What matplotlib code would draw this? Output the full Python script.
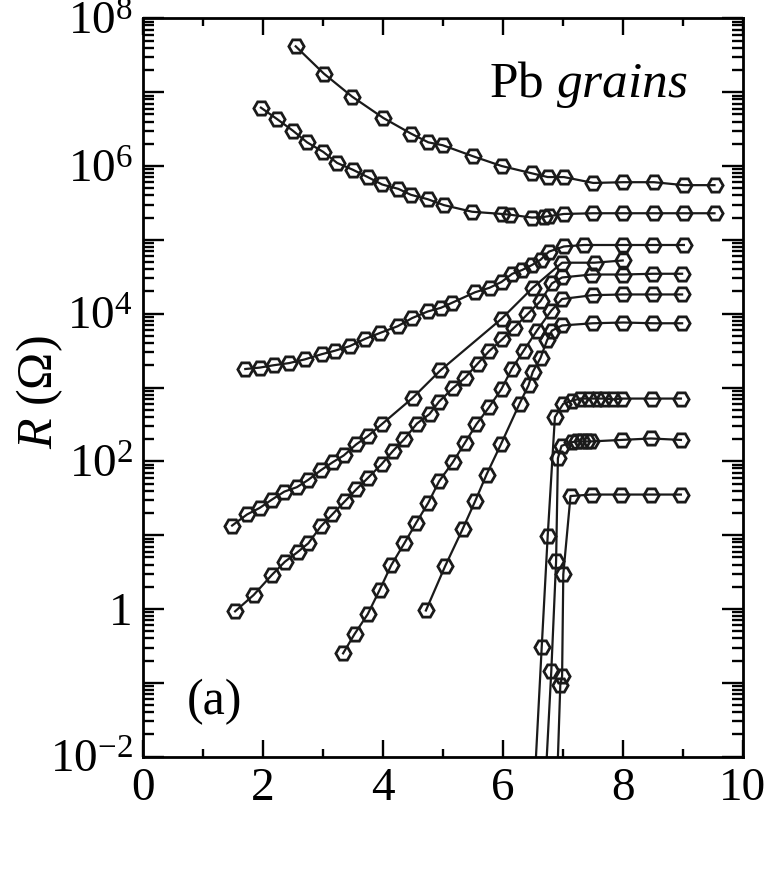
import numpy as np
import matplotlib
matplotlib.use('Agg')
import matplotlib.pyplot as plt
from matplotlib.ticker import FixedLocator, LogLocator, FuncFormatter, NullFormatter

plt.rcParams['font.family'] = ['Liberation Serif', 'DejaVu Serif']
plt.rcParams['mathtext.fontset'] = 'custom'
plt.rcParams['mathtext.rm'] = 'Liberation Serif'
plt.rcParams['mathtext.it'] = 'Liberation Serif:italic'

# R(T) curves, T in K, R in Ohm
x1 = [2.55, 3.02, 3.49, 4.01, 4.47, 4.76, 5.0, 5.51, 5.98, 6.49, 6.75, 7.02, 7.51, 8.01, 8.52, 9.02, 9.53]
r1 = [4.17e7, 1.78e7, 8.7e6, 4.47e6, 2.75e6, 2.09e6, 1.91e6, 1.35e6, 1.0e6, 7.94e5, 7.08e5, 7.08e5,
      5.89e5, 6.03e5, 6.03e5, 5.5e5, 5.5e5]

x2 = [1.97, 2.23, 2.50, 2.74, 3.01, 3.24, 3.50, 3.75, 3.99, 4.26, 4.47, 4.75, 5.02, 5.49, 5.99, 6.12,
      6.49, 6.68, 6.77, 7.02, 7.51, 8.01, 8.52, 9.02, 9.53]
r2 = [6.17e6, 4.37e6, 3.02e6, 2.09e6, 1.55e6, 1.10e6, 8.91e5, 7.08e5, 5.62e5, 4.90e5, 4.07e5, 3.55e5,
      2.95e5, 2.40e5, 2.24e5, 2.19e5, 2.0e5, 2.04e5, 2.09e5, 2.24e5, 2.29e5, 2.29e5, 2.29e5, 2.29e5, 2.29e5]

x3 = [1.71, 1.95, 2.18, 2.44, 2.70, 2.98, 3.21, 3.45, 3.71, 3.96, 4.25, 4.49, 4.75, 4.97, 5.16, 5.54,
      5.78, 5.98, 6.16, 6.32, 6.49, 6.63, 6.77, 7.02, 7.36, 8.0, 8.50, 9.02]
r3 = [1.78e3, 1.86e3, 2.0e3, 2.14e3, 2.40e3, 2.82e3, 3.16e3, 3.63e3, 4.57e3, 5.50e3, 6.76e3, 8.71e3,
      1.07e4, 1.20e4, 1.41e4, 1.95e4, 2.24e4, 2.69e4, 3.47e4, 3.89e4, 4.57e4, 5.37e4, 6.92e4, 8.13e4,
      8.51e4, 8.51e4, 8.51e4, 8.51e4]

x4 = [1.49, 1.74, 1.95, 2.15, 2.36, 2.57, 2.76, 2.97, 3.17, 3.35, 3.56, 3.75, 3.98, 4.50, 4.96, 5.98,
      6.50, 6.99, 7.53, 8.0]
r4 = [13.5, 19.1, 23.4, 30.2, 38.9, 44.7, 56.2, 75.9, 97.7, 120, 170, 219, 316, 724, 1.70e3, 8.51e3,
      2.24e4, 4.90e4, 4.90e4, 5.25e4]

x5 = [1.54, 1.85, 2.15, 2.37, 2.58, 2.76, 2.97, 3.16, 3.37, 3.56, 3.76, 3.98, 4.17, 4.36, 4.57, 4.78,
      4.94, 5.17, 5.37, 5.58, 5.77, 5.99, 6.19, 6.41, 6.63, 6.82, 6.99, 7.48, 8.01, 8.51, 8.99]
r5 = [0.93, 1.55, 2.88, 4.37, 5.89, 7.76, 13.2, 19.1, 28.8, 41.7, 60.3, 91.2, 138, 200, 324, 437,
      646, 977, 1.35e3, 2.09e3, 3.09e3, 4.47e3, 6.46e3, 9.77e3, 1.48e4, 2.57e4, 3.09e4, 3.39e4,
      3.39e4, 3.47e4, 3.47e4]

x6 = [3.34, 3.53, 3.75, 3.95, 4.14, 4.36, 4.56, 4.76, 4.94, 5.17, 5.37, 5.56, 5.77, 5.98, 6.15, 6.35,
      6.57, 6.81, 6.99, 7.50, 8.01, 8.51, 8.99]
r6 = [0.251, 0.457, 0.851, 1.82, 3.89, 7.76, 14.8, 27.5, 53.7, 97.7, 178, 316, 537, 955, 1.78e3,
      3.16e3, 5.89e3, 1.10e4, 1.58e4, 1.78e4, 1.82e4, 1.82e4, 1.82e4]

x7 = [4.72, 5.04, 5.33, 5.54, 5.73, 5.97, 6.28, 6.43, 6.50, 6.63, 6.74, 6.82, 6.99, 7.50, 8.01, 8.51, 8.99]
r7 = [0.955, 3.80, 12.0, 28.8, 66.1, 170, 603, 1.07e3, 1.62e3, 2.51e3, 4.37e3, 5.89e3, 6.92e3,
      7.41e3, 7.59e3, 7.41e3, 7.41e3]

x8 = [6.49, 6.65, 6.75, 6.87, 7.01, 7.15, 7.29, 7.43, 7.57, 7.69, 7.84, 7.98, 8.48, 8.97]
r8 = [1e-3, 0.302, 9.77, 398, 603, 661, 708, 708, 708, 708, 692, 708, 708, 708]

x9 = [6.67, 6.81, 6.89, 6.92, 6.98, 7.15, 7.24, 7.32, 7.40, 7.47, 7.98, 8.47, 8.97]
r9 = [1e-3, 0.145, 4.47, 110, 162, 182, 186, 186, 186, 186, 195, 204, 195]

x10 = [6.88, 6.96, 6.99, 7.01, 7.13, 7.48, 7.97, 8.47, 8.97]
r10 = [1e-3, 0.0933, 0.123, 2.95, 33.9, 35.5, 35.5, 35.5, 35.5]

curves = [(x1, r1), (x2, r2), (x3, r3), (x4, r4), (x5, r5),
          (x6, r6), (x7, r7), (x8, r8), (x9, r9), (x10, r10)]

fig = plt.figure(figsize=(7.72, 8.77), dpi=100)
ax = fig.add_axes([142.7 / 772, 1 - 756.7 / 877, 600 / 772, 738.4 / 877])

for xs, rs in curves:
    ax.plot(xs, rs, color='#1a1a1a', linewidth=1.6, marker='H', markersize=11,
            markerfacecolor='none', markeredgecolor='#1a1a1a', markeredgewidth=2.0)

ax.set_yscale('log')
ax.set_xlim(0, 10)
ax.set_ylim(1e-2, 1e8)

# ticks
ax.set_xticks([0, 2, 4, 6, 8, 10])
ax.set_xticks([1, 3, 5, 7, 9], minor=True)
ax.yaxis.set_major_locator(FixedLocator([10.0 ** e for e in range(-2, 9)]))
ax.yaxis.set_minor_locator(LogLocator(base=10, subs=np.arange(2, 10), numticks=20))
ax.yaxis.set_minor_formatter(NullFormatter())


def ylab(v, pos):
    e = int(round(np.log10(v)))
    if e % 2:
        return ''
    if e == 0:
        return '1'
    return r'$10^{%d}$' % e


ax.yaxis.set_major_formatter(FuncFormatter(ylab))

ax.tick_params(which='both', direction='in', top=True, right=True, width=1.7, labelsize=34)
ax.tick_params(axis='x', which='major', length=12, pad=8)
ax.tick_params(axis='x', which='minor', length=6)
ax.tick_params(axis='y', which='major', length=15, pad=7)
ax.tick_params(axis='y', which='minor', length=8)
for s in ax.spines.values():
    s.set_linewidth(2.0)

fig.text(40 / 772, 1 - 392 / 877, r'$R$ (Ω)', rotation=90, ha='center', va='center', fontsize=36)
ax.text(0.909, 0.893, r'Pb $grains$', transform=ax.transAxes, ha='right', va='baseline', fontsize=37)
ax.text(0.074, 0.058, '(a)', transform=ax.transAxes, ha='left', va='baseline', fontsize=36)

fig.savefig('out.png', dpi=100)
